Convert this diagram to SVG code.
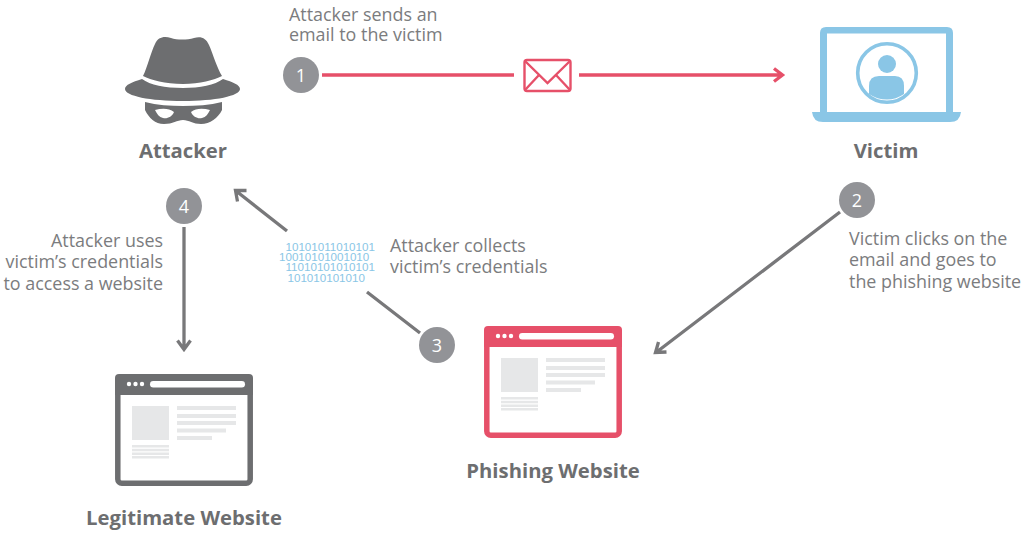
<svg xmlns="http://www.w3.org/2000/svg" xmlns:xlink="http://www.w3.org/1999/xlink" width="1024" height="534" viewBox="0 0 1024 534">
<style>
text{font-family:"Open Sans","Noto Sans",sans-serif}
.lbl{font-size:17.9px;fill:#7b7c7e}
.ttl{font-size:20.3px;font-weight:700;fill:#6d6e70}
.num{font-size:18px;fill:#fff;text-anchor:middle}
.bin{font-size:11.6px;fill:#8ac6e6;font-family:"Liberation Sans",sans-serif}
.badge{fill:#929397}
.g{fill:none;stroke:#78787a;stroke-width:3.3}
.r{fill:none;stroke:#e65069;stroke-width:3.3}
.pl{fill:#e6e7e8}
</style>
<defs>
<g id="page">
<rect x="501" y="358" width="37" height="34" class="pl"/>
<rect x="546" y="358" width="59" height="4" class="pl"/>
<rect x="546" y="366" width="59" height="4" class="pl"/>
<rect x="546" y="373" width="59" height="4" class="pl"/>
<rect x="546" y="380.500" width="49" height="4" class="pl"/>
<rect x="546" y="388" width="35" height="4" class="pl"/>
<rect x="501" y="397" width="37" height="2.500" class="pl"/>
<rect x="501" y="400.800" width="37" height="2.500" class="pl"/>
<rect x="501" y="404.500" width="37" height="2.500" class="pl"/>
<rect x="501" y="408" width="37" height="2.500" class="pl"/>
<circle cx="498" cy="336" r="2.200" fill="#fff"/>
<circle cx="504.500" cy="336" r="2.200" fill="#fff"/>
<circle cx="511" cy="336" r="2.200" fill="#fff"/>
<rect x="519" y="333" width="95" height="6.500" rx="3.250" fill="#fff"/>
</g>
</defs>
<g id="connectors">
<path class="r" d="M322 75H782M774 68.500L782.500 75L774 81.500"/>
<path class="g" d="M840 212L656 352.500M658.500 342L655.500 352.500L666.500 352"/>
<path class="g" d="M420 333L367 292M287 231L235.500 190.500M246.500 190.500L235.500 190.500L237.500 201.500"/>
<path class="g" d="M184 227V349.500M177.500 340.500L184 349.500L190.500 340.500"/>
</g>
<g id="attacker">
<path d="M143 76C147 68 151 52 155 44C158 37 164 36 171 38C177 40 187 40 194 38C201 36 206 38 209 45C213 54 217 68 222 76C214 80 200 84 183 84C165 84 151 80 143 76Z" fill="#6d6e70"/>
<path d="M142 79C150 85 165 88 183 88C200 88 215 85 223 79C233 82 240 85 240 89C240 96 215 101 183 101C150 101 125 96 125 89C125 85 132 82 142 79Z" fill="#6d6e70"/>
<path d="M145 102C157 105 170 106 183 106C196 106 210 105 222 102V110C218 118 210 124 201 124C193 124 189 120 183 120C177 120 173 124 164 124C155 124 149 118 145 110Z" fill="#6d6e70"/>
<path d="M155 110C162 108 169 108 174 112C172 117 167 119 163 118C159 117 157 114 155 110ZM210 110C203 108 196 108 191 112C193 117 198 119 202 118C206 117 208 114 210 110Z" fill="#fff"/>
<text class="ttl" x="183" y="158" text-anchor="middle">Attacker</text>
</g>
<g id="victim">
<path d="M820 112V33Q820 27 826 27H947Q953 27 953 33V112H946V33.500H827V112Z" fill="#8ac6e6"/>
<path d="M812 112H961Q960 122 950 122H823Q813 122 812 112Z" fill="#8ac6e6"/>
<circle cx="887" cy="73" r="29.300" fill="none" stroke="#8ac6e6" stroke-width="3.600"/>
<circle cx="887" cy="64" r="9" fill="#8ac6e6"/>
<path d="M869 94V86Q869 76 879 76H895Q904 76 904 86V94Q896 99.500 887 99.500Q877 99.500 869 94Z" fill="#8ac6e6"/>
<text class="ttl" x="886" y="158" text-anchor="middle">Victim</text>
</g>
<g id="phishing-website">
<rect x="486.800" y="328.800" width="132.400" height="106.400" rx="4" fill="#fff" stroke="#e65069" stroke-width="5.500"/>
<path d="M484 347V330Q484 326 488 326H618Q622 326 622 330V347Z" fill="#e65069"/>
<use xlink:href="#page" href="#page"/>
<text class="ttl" x="553" y="478" text-anchor="middle">Phishing Website</text>
</g>
<g id="legitimate-website">
<rect x="117.800" y="376.800" width="132.400" height="106.400" rx="4" fill="#fff" stroke="#6d6e70" stroke-width="5.500"/>
<path d="M115 395V378Q115 374 119 374H249Q253 374 253 378V395Z" fill="#6d6e70"/>
<use xlink:href="#page" href="#page" transform="translate(-369 48)"/>
<text class="ttl" x="184" y="525" text-anchor="middle">Legitimate Website</text>
</g>
<g id="envelope">
<rect x="514" y="55" width="65" height="40" fill="#fff"/>
<rect x="524.500" y="60" width="46" height="31" rx="2.500" fill="#fff" stroke="#e65069" stroke-width="2.400"/>
<path d="M525 61L547.500 83L570 61M525 90L539 75M570 90L556 75" fill="none" stroke="#e65069" stroke-width="2.400"/>
</g>
<g id="step-1"><circle class="badge" cx="301" cy="75" r="18"/><text class="num" x="301" y="81.500">1</text>
<text class="lbl"><tspan x="289" y="21">Attacker sends an</tspan><tspan x="289" y="41">email to the victim</tspan></text></g>
<g id="step-2"><circle class="badge" cx="857" cy="200" r="18"/><text class="num" x="857" y="206.500">2</text>
<text class="lbl"><tspan x="849" y="245">Victim clicks on the</tspan><tspan x="849" y="266">email and goes to</tspan><tspan x="849" y="288">the phishing website</tspan></text></g>
<g id="step-3"><circle class="badge" cx="437" cy="345" r="18"/><text class="num" x="437" y="351.500">3</text>
<text class="lbl"><tspan x="390" y="252">Attacker collects</tspan><tspan x="390" y="273">victim’s credentials</tspan></text></g>
<g id="step-4"><circle class="badge" cx="184" cy="206" r="18"/><text class="num" x="184" y="212.500">4</text>
<text class="lbl" text-anchor="end"><tspan x="163" y="247">Attacker uses</tspan><tspan x="163" y="268">victim’s credentials</tspan><tspan x="163" y="290">to access a website</tspan></text></g>
<g id="binary">
<text class="bin"><tspan x="285.500" y="251">10101011010101</tspan><tspan x="279" y="261">10010101001010</tspan><tspan x="285.500" y="271">11010101010101</tspan><tspan x="287.500" y="282">101010101010</tspan></text>
</g>
</svg>
